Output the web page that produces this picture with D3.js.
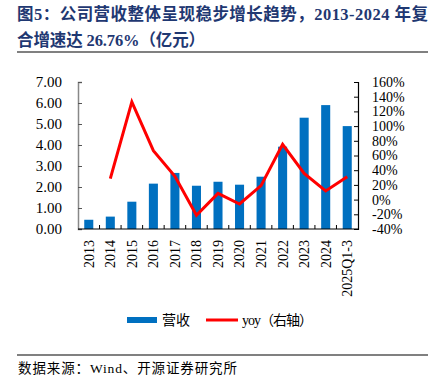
<!DOCTYPE html>
<html>
<head>
<meta charset="utf-8">
<script src="https://cdn.jsdelivr.net/npm/d3@7"></script>
<style>
  body { margin: 0; background: #fff; }
  svg { display: block; }
</style>
</head>
<body>
<script>
// chart data
const years = ['2013', '2014', '2015', '2016', '2017', '2018', '2019', '2020', '2021', '2022', '2023', '2024', '2025Q1-3']
const revenue = [0.44, 0.59, 1.30, 2.16, 2.67, 2.06, 2.25, 2.11, 2.49, 3.92, 5.30, 5.90, 4.90]
const yoy = [null, 28.5, 133, 66.6, 31.7, -21.4, 8.5, -6, 19, 75.2, 35.7, 11.7, 31.2]
const leftTicks = [0, 1, 2, 3, 4, 5, 6, 7]
const rightTicks = [-40, -20, 0, 20, 40, 60, 80, 100, 120, 140, 160]

const w = 435
const h = 389
const serif = '"Liberation Serif", "Times New Roman", "Noto Sans CJK SC", serif'
const cjk = '"Liberation Serif", "Noto Sans CJK SC", serif'

// plot area
const pLeft = 78
const pRight = 358
const pTop = 82
const pBottom = 229

const svg = d3.select('body')
    .append('svg')
    .attr('width', w)
    .attr('height', h)

// title
svg.append('text')
    .attr('x', 17)
    .attr('y', 20)
    .attr('fill', '#1f3872')
    .attr('font-family', cjk)
    .attr('font-weight', 'bold')
    .attr('font-size', 16.5)
    .attr('textLength', 411)
    .attr('lengthAdjust', 'spacing')
    .text('图5：公司营收整体呈现稳步增长趋势，2013-2024 年复')

svg.append('text')
    .attr('x', 17)
    .attr('y', 46)
    .attr('fill', '#1f3872')
    .attr('font-family', cjk)
    .attr('font-weight', 'bold')
    .attr('font-size', 16.5)
    .attr('textLength', 188)
    .attr('lengthAdjust', 'spacing')
    .text('合增速达 26.76%（亿元）')

svg.append('line')
    .attr('x1', 17).attr('x2', 428)
    .attr('y1', 52).attr('y2', 52)
    .attr('stroke', '#808080')
    .attr('stroke-width', 2)

// scales
const xScale = d3.scaleBand()
    .domain(years)
    .range([pLeft, pRight])
    .paddingInner(0.58)
    .paddingOuter(0.29)

const yLeft = d3.scaleLinear()
    .domain([0, 7])
    .range([pBottom, pTop])

const yRight = d3.scaleLinear()
    .domain([-40, 160])
    .range([pBottom, pTop])

// bars
svg.selectAll('rect.bar')
    .data(revenue)
    .enter()
    .append('rect')
    .attr('class', 'bar')
    .attr('x', (d, i) => xScale(years[i]))
    .attr('y', d => yLeft(d))
    .attr('width', xScale.bandwidth())
    .attr('height', d => yLeft(0) - yLeft(d))
    .attr('fill', '#0070c0')

// left axis
const leftAxis = svg.append('g')
    .attr('transform', `translate(${pLeft},0)`)
    .call(d3.axisRight(yLeft).tickValues(leftTicks).tickSize(4).tickFormat(''))
leftAxis.select('.domain').attr('stroke', '#888').attr('stroke-width', 1.5)
leftAxis.selectAll('.tick line').attr('stroke', '#555')

svg.selectAll('text.lt')
    .data(leftTicks)
    .enter()
    .append('text')
    .attr('class', 'lt')
    .attr('x', 62)
    .attr('y', d => yLeft(d))
    .attr('dy', '0.35em')
    .attr('text-anchor', 'end')
    .attr('font-family', serif)
    .attr('font-size', 15)
    .attr('fill', '#000')
    .text(d => d.toFixed(2))

// right axis
const rightAxis = svg.append('g')
    .attr('transform', `translate(${pRight},0)`)
    .call(d3.axisLeft(yRight).tickValues(rightTicks).tickSize(4).tickFormat(''))
rightAxis.select('.domain').attr('stroke', '#000').attr('stroke-width', 1.2)

svg.selectAll('text.rt')
    .data(rightTicks)
    .enter()
    .append('text')
    .attr('class', 'rt')
    .attr('x', 372)
    .attr('y', d => yRight(d))
    .attr('dy', '0.35em')
    .attr('font-family', serif)
    .attr('font-size', 14)
    .attr('fill', '#000')
    .text(d => d + '%')

// bottom axis with ticks between categories
svg.append('line')
    .attr('x1', pLeft).attr('x2', pRight)
    .attr('y1', pBottom).attr('y2', pBottom)
    .attr('stroke', '#000')
    .attr('stroke-width', 1.2)

const gap = (xScale.step() - xScale.bandwidth()) / 2
svg.selectAll('line.xt')
    .data(years.slice(1))
    .enter()
    .append('line')
    .attr('class', 'xt')
    .attr('x1', d => xScale(d) - gap)
    .attr('x2', d => xScale(d) - gap)
    .attr('y1', pBottom)
    .attr('y2', pBottom - 4)
    .attr('stroke', '#000')

svg.selectAll('text.xl')
    .data(years)
    .enter()
    .append('text')
    .attr('class', 'xl')
    .attr('transform', d => `translate(${xScale(d) + xScale.bandwidth() / 2},240) rotate(-90)`)
    .attr('dy', '0.35em')
    .attr('text-anchor', 'end')
    .attr('font-family', serif)
    .attr('font-size', 14)
    .attr('fill', '#000')
    .text(d => d)

// yoy line
const line = d3.line()
    .defined(d => d !== null)
    .x((d, i) => xScale(years[i]) + xScale.bandwidth() / 2)
    .y(d => yRight(d))

svg.append('path')
    .datum(yoy)
    .attr('d', line)
    .attr('fill', 'none')
    .attr('stroke', '#ff0000')
    .attr('stroke-width', 3)

// legend
svg.append('rect')
    .attr('x', 127).attr('y', 317)
    .attr('width', 30).attr('height', 6)
    .attr('fill', '#0070c0')

svg.append('text')
    .attr('x', 162).attr('y', 320)
    .attr('dy', '0.35em')
    .attr('font-family', cjk)
    .attr('font-size', 14)
    .text('营收')

svg.append('line')
    .attr('x1', 206).attr('x2', 238)
    .attr('y1', 320).attr('y2', 320)
    .attr('stroke', '#ff0000')
    .attr('stroke-width', 3)

svg.append('text')
    .attr('x', 242).attr('y', 320)
    .attr('dy', '0.35em')
    .attr('font-family', cjk)
    .attr('font-size', 14)
    .attr('textLength', 71)
    .attr('lengthAdjust', 'spacing')
    .text('yoy（右轴）')

// source
svg.append('line')
    .attr('x1', 17).attr('x2', 428)
    .attr('y1', 355).attr('y2', 355)
    .attr('stroke', '#808080')
    .attr('stroke-width', 2)

svg.append('text')
    .attr('x', 18).attr('y', 368)
    .attr('dy', '0.35em')
    .attr('font-family', cjk)
    .attr('font-size', 13.5)
    .attr('textLength', 219)
    .attr('lengthAdjust', 'spacing')
    .text('数据来源：Wind、开源证券研究所')
</script>
</body>
</html>
